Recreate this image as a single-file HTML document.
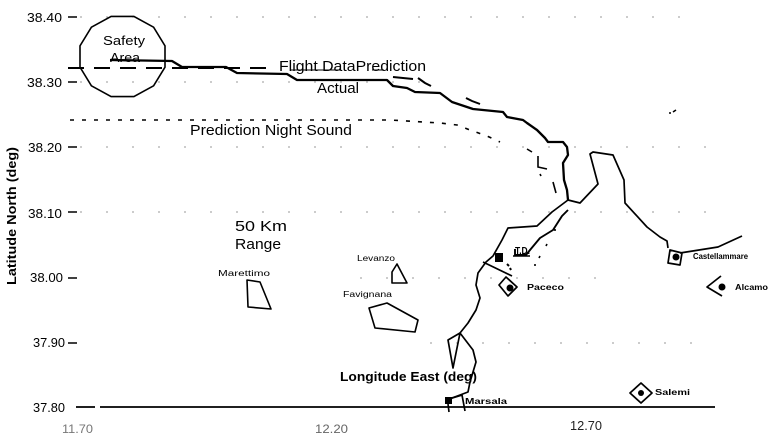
<!DOCTYPE html>
<html>
<head>
<meta charset="utf-8">
<style>
html,body{margin:0;padding:0;background:#fff;}
svg{display:block;}
text{font-family:"Liberation Sans",Arial,sans-serif;fill:#000;}
</style>
</head>
<body>
<svg width="770" height="447" viewBox="0 0 770 447" xmlns="http://www.w3.org/2000/svg">
<rect width="770" height="447" fill="#fff"/>

<!-- faint dotted gridlines -->
<g stroke="#999" stroke-width="1" stroke-dasharray="2 24" fill="none">
  <line x1="80" y1="17" x2="680" y2="17"/>
  <line x1="80" y1="82" x2="420" y2="82"/>
  <line x1="80" y1="147" x2="720" y2="147"/>
  <line x1="80" y1="212" x2="720" y2="212"/>
  <line x1="360" y1="278" x2="600" y2="278"/>
  <line x1="430" y1="343" x2="700" y2="343"/>
</g>

<!-- y-axis labels -->
<g font-size="13">
  <text x="27" y="22" textLength="35" lengthAdjust="spacingAndGlyphs">38.40</text>
  <text x="27" y="87" textLength="35" lengthAdjust="spacingAndGlyphs">38.30</text>
  <text x="28" y="152" textLength="34" lengthAdjust="spacingAndGlyphs">38.20</text>
  <text x="28" y="218" textLength="34" lengthAdjust="spacingAndGlyphs">38.10</text>
  <text x="30" y="282" textLength="33" lengthAdjust="spacingAndGlyphs">38.00</text>
  <text x="33" y="347" textLength="32" lengthAdjust="spacingAndGlyphs">37.90</text>
  <text x="33" y="412" textLength="32" lengthAdjust="spacingAndGlyphs">37.80</text>
</g>
<g stroke="#000" stroke-width="1.5">
  <line x1="68" y1="17" x2="77" y2="17"/>
  <line x1="68" y1="82" x2="77" y2="82"/>
  <line x1="68" y1="147" x2="77" y2="147"/>
  <line x1="68" y1="212" x2="77" y2="212"/>
  <line x1="68" y1="278" x2="77" y2="278"/>
  <line x1="68" y1="343" x2="77" y2="343"/>
</g>

<!-- y-axis title -->
<text transform="translate(16,216) rotate(-90)" text-anchor="middle" font-size="13" font-weight="bold" textLength="138" lengthAdjust="spacingAndGlyphs">Latitude North (deg)</text>

<!-- x axis -->
<line x1="76" y1="407" x2="95" y2="407" stroke="#000" stroke-width="1.8"/>
<line x1="100" y1="407" x2="715" y2="407" stroke="#000" stroke-width="1.8"/>
<text x="62" y="433" font-size="12" style="fill:#777" textLength="31" lengthAdjust="spacingAndGlyphs">11.70</text>
<text x="315" y="433" font-size="12" style="fill:#666" textLength="33" lengthAdjust="spacingAndGlyphs">12.20</text>
<text x="570" y="430" font-size="13" style="fill:#222" textLength="32" lengthAdjust="spacingAndGlyphs">12.70</text>

<!-- Safety area polygon -->
<polygon points="165,67.2 153.6,85.8 133.9,96.6 111.1,96.6 91.4,85.8 80,67.2 80,45.8 91.4,27.2 111.1,16.4 133.9,16.4 153.6,27.2 165,45.8" fill="none" stroke="#000" stroke-width="1.6"/>
<text x="103" y="45" font-size="13" textLength="42" lengthAdjust="spacingAndGlyphs">Safety</text>
<text x="110" y="62" font-size="13" textLength="30" lengthAdjust="spacingAndGlyphs">Area</text>

<!-- Flight data prediction (dashed) -->
<path d="M68 68 L270 68" stroke="#000" stroke-width="2" stroke-dasharray="16 10" fill="none"/>
<path d="M290 70 L340 70 M372 70 L384 70" stroke="#000" stroke-width="1" fill="none"/>
<path d="M393 77 L413 79 M418 78 L425 83 L431 86 M466 98 L472 101 L480 104" stroke="#000" stroke-width="2" fill="none"/>
<text x="279" y="71" font-size="15" textLength="147" lengthAdjust="spacingAndGlyphs">Flight DataPrediction</text>

<!-- Actual (solid) -->
<path d="M110 60 L172 61 L182 67 L226 67 L237 73 L287 74 L297 80 L387 80 L393 86 L407 88 L415 92 L440 93 L452 102 L467 107 L473 109 L503 112 L507 117 L523 120 L527 123 L537 130 L545 138 L548 142 L563 142 L567 147 L568 155 L563 163 L564 180 L567 190 L568 200" stroke="#000" stroke-width="2.3" fill="none" stroke-linejoin="round"/>
<text x="317" y="93" font-size="15" textLength="42" lengthAdjust="spacingAndGlyphs">Actual</text>

<!-- Prediction Night Sound (dotted) -->
<path d="M70 120 L390 120 L440 123 L457 125 L470 130 L487 136 L500 142" stroke="#000" stroke-width="1.6" stroke-dasharray="4 8" fill="none"/>
<text x="190" y="135" font-size="15" textLength="162" lengthAdjust="spacingAndGlyphs">Prediction Night Sound</text>

<!-- scattered marks near coast -->
<g stroke="#000" stroke-width="1.6" fill="none">
  <path d="M527 149 L532 152"/>
  <path d="M538 156 L538 167 L547 169"/>
  <path d="M553 182 L556 193"/>
  <path d="M540 174 L541 176"/>
  <path d="M555 229 L555 231"/>
  <path d="M547 244 L546 246"/>
  <path d="M540 256 L539 258"/>
  <path d="M535 264 L535 266"/>
  <path d="M669 113 L671 113 M673 112 L676 110"/>
</g>

<!-- 50 Km Range -->
<text x="235" y="231" font-size="15" textLength="52" lengthAdjust="spacingAndGlyphs">50 Km</text>
<text x="235" y="249" font-size="15" textLength="46" lengthAdjust="spacingAndGlyphs">Range</text>

<!-- islands -->
<g stroke="#000" stroke-width="1.6" fill="none" stroke-linejoin="round">
  <polygon points="247,280 260,282 271,309 248,307"/>
  <polygon points="397,264 392,272 392,283 407,283"/>
  <polygon points="369,308 387,303 418,320 415,332 375,328"/>
</g>
<g font-size="8">
  <text x="218" y="276" textLength="52" lengthAdjust="spacingAndGlyphs">Marettimo</text>
  <text x="357" y="261" textLength="38" lengthAdjust="spacingAndGlyphs">Levanzo</text>
  <text x="343" y="297" textLength="49" lengthAdjust="spacingAndGlyphs">Favignana</text>
</g>

<!-- coastlines -->
<g stroke="#000" stroke-width="1.7" fill="none" stroke-linejoin="round">
  <path d="M568 200 L552 212 L537 226 L508 228 L502 240 L493 256 L486 262 L478 273 L476 285 L480 298 L476 310 L468 323 L460 333 L473 350 L476 362 L473 372 L470 382 L468 392 L452 398 L447 403"/>
  <path d="M460 333 L448 340 L453 368 Z"/>
  <path d="M452 398 L462 395 L465 411"/>
  <path d="M448 404 L449 412"/>
  <path d="M568 210 L562 216 L553 230 L540 238 L530 250 L526 255 L515 255 L515 249" stroke-width="1.9"/>
  <path d="M483 262 L512 276"/>
  <path d="M568 200 L580 203 L598 184 L590 154 L593 152 L613 155 L624 180 L625 203 L647 227 L660 237 L667 241 L668 248"/>
  <path d="M670 250 L668 263 L680 265 L682 253 Z"/>
  <path d="M680 253 L718 247 L742 236"/>
  <path d="M721 276 L707 287 L722 296"/>
  <path d="M641 383 L652 393 L641 403 L630 393 Z"/>
  <path d="M506 277 L499 285 L508 296 L517 287 Z"/>
</g>

<!-- town markers -->
<rect x="445" y="397" width="7" height="7" fill="#000"/>
<rect x="495" y="253" width="8" height="9" fill="#000"/>
<circle cx="510" cy="288" r="3.5" fill="#000"/>
<circle cx="676" cy="257" r="3.5" fill="#000"/>
<circle cx="722" cy="287" r="3.5" fill="#000"/>
<circle cx="641" cy="393" r="3" fill="#000"/>
<path d="M507 264 L509 266 M510 268 L511 270" stroke="#000" stroke-width="2"/>

<!-- town labels -->
<text x="515" y="254" font-size="10" font-weight="bold" textLength="15" lengthAdjust="spacingAndGlyphs">T.D.</text>
<line x1="513" y1="256" x2="530" y2="256" stroke="#000" stroke-width="1.5"/>
<g font-size="8" font-weight="bold">
  <text x="527" y="290" textLength="37" lengthAdjust="spacingAndGlyphs">Paceco</text>
  <text x="693" y="259" textLength="55" lengthAdjust="spacingAndGlyphs">Castellammare</text>
  <text x="735" y="290" textLength="33" lengthAdjust="spacingAndGlyphs">Alcamo</text>
  <text x="655" y="395" textLength="35" lengthAdjust="spacingAndGlyphs">Salemi</text>
  <text x="465" y="404" textLength="42" lengthAdjust="spacingAndGlyphs">Marsala</text>
</g>

<!-- Longitude label -->
<text x="340" y="381" font-size="13" font-weight="bold" textLength="137" lengthAdjust="spacingAndGlyphs">Longitude East (deg)</text>
</svg>
</body>
</html>
